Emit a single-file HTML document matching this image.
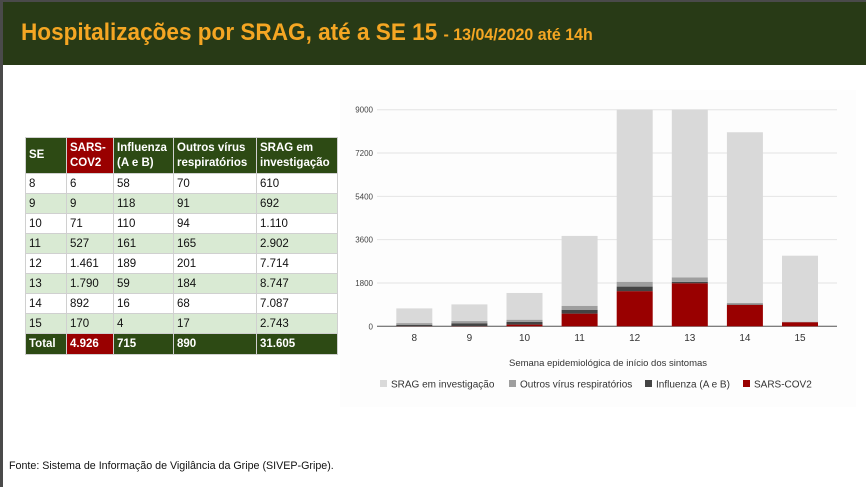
<!DOCTYPE html>
<html><head><meta charset="utf-8">
<style>
*{margin:0;padding:0;box-sizing:border-box}
body{width:866px;height:487px;background:#fff;position:relative;overflow:hidden;font-family:"Liberation Sans",sans-serif}
#lb{position:absolute;left:0;top:0;width:3px;height:487px;background:#4a4a4a}
#tb{position:absolute;left:0;top:0;width:866px;height:2px;background:#4a4a4a}
#hdr{position:absolute;left:3px;top:2px;width:863px;height:63px;background:#283a16}
#title{position:absolute;left:18px;top:17px;white-space:nowrap;color:#f5a623;font-weight:bold;font-size:24px;transform-origin:0 0;transform:scaleX(0.94)}
#title span{font-size:17px}
table{position:absolute;left:25px;top:137px;border-collapse:collapse;font-size:11.5px;color:#111}
td,th{border:1px solid #d0d0d0;padding:0 3px;text-align:left;height:20px;white-space:nowrap}
th{background:#2d4a14;color:#fff;font-weight:bold;height:36px;line-height:15px;vertical-align:middle}
th.r,td.r{background:#990000;color:#fff}
tr.g td{background:#d9ead3}
tr.t td{background:#2d4a14;color:#fff;font-weight:bold;height:21px}
tr.t td.r{background:#990000}
#foot{position:absolute;left:9px;top:460px;font-size:10.7px;color:#111}
</style></head><body>
<div id="tb"></div>
<div id="lb"></div>
<div id="hdr">
<div id="title">Hospitalizações por SRAG, até a SE 15 <span>- 13/04/2020 até 14h</span></div>
</div>
<table>
<colgroup><col style="width:41px"><col style="width:47px"><col style="width:60px"><col style="width:83px"><col style="width:81px"></colgroup>
<tr><th>SE</th><th class="r">SARS-<br>COV2</th><th>Influenza<br>(A e B)</th><th>Outros vírus<br>respiratórios</th><th>SRAG em<br>investigação</th></tr>
<tr><td>8</td><td>6</td><td>58</td><td>70</td><td>610</td></tr>
<tr class="g"><td>9</td><td>9</td><td>118</td><td>91</td><td>692</td></tr>
<tr><td>10</td><td>71</td><td>110</td><td>94</td><td>1.110</td></tr>
<tr class="g"><td>11</td><td>527</td><td>161</td><td>165</td><td>2.902</td></tr>
<tr><td>12</td><td>1.461</td><td>189</td><td>201</td><td>7.714</td></tr>
<tr class="g"><td>13</td><td>1.790</td><td>59</td><td>184</td><td>8.747</td></tr>
<tr><td>14</td><td>892</td><td>16</td><td>68</td><td>7.087</td></tr>
<tr class="g"><td>15</td><td>170</td><td>4</td><td>17</td><td>2.743</td></tr>
<tr class="t"><td>Total</td><td class="r">4.926</td><td>715</td><td>890</td><td>31.605</td></tr>
</table>
<svg id="chart" width="866" height="487" style="position:absolute;left:0;top:0"></svg>
<div id="foot">Fonte: Sistema de Informação de Vigilância da Gripe (SIVEP-Gripe).</div>
<script>
const categories=["8","9","10","11","12","13","14","15"];
const sarsCov2=[6,9,71,527,1461,1790,892,170];
const influenza=[58,118,110,161,189,59,16,4];
const outros=[70,91,94,165,201,184,68,17];
const investigacao=[610,692,1110,2902,7714,8747,7087,2743];
const yTicks=[0,1800,3600,5400,7200,9000];
const NS="http://www.w3.org/2000/svg";
const svg=document.getElementById('chart');
const X0=377,X1=837,Y0=326.3,Y1=109.7,YMAX=9000;
const step=55.1,first=414.3,bw=36;
function y(v){return Y0-(Math.min(v,YMAX))/YMAX*(Y0-Y1);}
function xc(i){return first+i*step;}
function mk(t,a){const e=document.createElementNS(NS,t);for(const k in a)e.setAttribute(k,a[k]);svg.appendChild(e);return e;}
const bg=mk('rect',{x:340,y:90,width:516,height:317,fill:'#fdfdfd'});


yTicks.forEach(t=>{
 const l=mk('line',{x1:X0,x2:X1,y1:y(t),y2:y(t),stroke:t===0?'#555':'#e4e4e4','stroke-width':1});
 
 
 const tx=mk('text',{x:373,y:y(t)+3,'text-anchor':'end','font-size':8,fill:'#444'});
 tx.textContent=t;
 
 
});
const series=[[sarsCov2,'#990000','sars-cov2'],[influenza,'#444444','influenza'],[outros,'#9e9e9e','outros'],[investigacao,'#d9d9d9','investigacao']];
categories.forEach((c,i)=>{
 let base=0;
 series.forEach(([arr,col,nm])=>{
  const top=base+arr[i];
  const yt=y(top),yb=y(base);
  if(yb-yt>0){const r=mk('rect',{x:xc(i)-bw/2,y:yt,width:bw,height:yb-yt,fill:col});
  
  }
  base=top;
 });
 const t=mk('text',{x:xc(i),y:341,'text-anchor':'middle','font-size':10,fill:'#333'});
 t.textContent=c;
 
 
});
const xt=mk('text',{x:608,y:366,'text-anchor':'middle','font-size':9.5,fill:'#333'});
xt.textContent='Semana epidemiológica de início dos sintomas';


const leg=[['SRAG em investigação','#d9d9d9',380],['Outros vírus respiratórios','#9e9e9e',509],['Influenza (A e B)','#444444',645],['SARS-COV2','#990000',743]];
leg.forEach(([lab,col,x])=>{
 const r=mk('rect',{x:x,y:380,width:7,height:7,fill:col});
 
 
 const t=mk('text',{x:x+11,y:387.5,'font-size':10,fill:'#333'});
 t.textContent=lab;
 
 
});
</script>
</body></html>
